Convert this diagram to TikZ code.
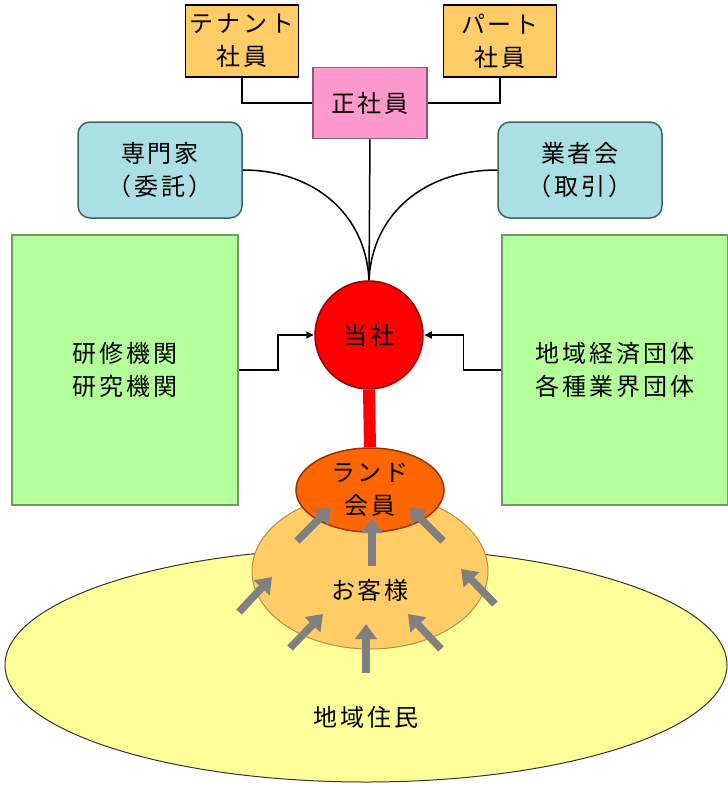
\documentclass[tikz,border=0pt]{standalone}
\usepackage{fontspec}
\setmainfont[LetterSpace=12]{Noto Sans CJK JP}
\usetikzlibrary{arrows.meta,shapes.geometric,backgrounds}
\definecolor{cYellowBox}{HTML}{FFCC66}
\definecolor{cPink}{HTML}{FF99CC}
\definecolor{cPinkLine}{HTML}{8A5A7A}
\definecolor{cCyan}{HTML}{AADFE3}
\definecolor{cCyanLine}{HTML}{3E6464}
\definecolor{cGreen}{HTML}{B3FF99}
\definecolor{cGreenLine}{HTML}{6F9A60}
\definecolor{cRedLine}{HTML}{990000}
\definecolor{cOrange}{HTML}{FF6600}
\definecolor{cOrangeLine}{HTML}{993300}
\definecolor{cCust}{HTML}{FFCC66}
\definecolor{cCustLine}{HTML}{B39040}
\definecolor{cResid}{HTML}{FFFF99}
\definecolor{cArrow}{HTML}{808080}
\begin{document}
\begin{tikzpicture}[x=1pt,y=-1pt,
  every node/.style={font=\fontsize{24}{33}\selectfont, align=center, inner sep=0pt},
  staffbox/.style={rectangle, draw=black, line width=1.5, fill=cYellowBox, minimum width=113, minimum height=72},
  regbox/.style={rectangle, draw=cPinkLine, line width=1.5, fill=cPink, minimum width=114, minimum height=71},
  partnerbox/.style={rectangle, rounded corners=12, draw=cCyanLine, line width=1.5, fill=cCyan, minimum width=164, minimum height=96},
  groupbox/.style={rectangle, draw=cGreenLine, line width=1.5, fill=cGreen, minimum width=226, minimum height=270},
  link/.style={draw=black, line width=1.5},
  inarrow/.style={link, -{Latex[length=8,width=8]}},
  grayarrow/.style={draw=cArrow, line width=7.5, -{Triangle[length=15,width=21]}}
]
\useasboundingbox (0,0) rectangle (728,785);

% ground layers
\node[ellipse, draw=black!80, line width=1, fill=cResid, minimum width=722, minimum height=234] (resid) at (366,665) {};
\node (residtext) at (366,717) {地域住民};
\node[ellipse, draw=cCustLine, line width=1, fill=cCust, minimum width=236, minimum height=156] (cust) at (370,571) {};
\node (custtext) at (370,590) {お客様};

% top boxes
\node[staffbox] (tenant) at (242,41) {テナント\\社員};
\node[staffbox] (part) at (500,41) {パート\\社員};
\node[regbox] (seisha) at (370,103) {正社員};
\node[partnerbox] (senmon) at (160,170) {専門家\\（委託）};
\node[partnerbox] (gyosha) at (580,170) {業者会\\（取引）};
\node[groupbox] (kenshu) at (125,370) {研修機関\\研究機関};
\node[groupbox] (chiiki) at (615,370) {地域経済団体\\各種業界団体};

% company and members
\node[circle, draw=cRedLine, line width=1.5, fill=red, minimum size=108] (tosha) at (369,335) {当社};
\node[ellipse, draw=cOrangeLine, line width=1.5, fill=cOrange, minimum width=148, minimum height=84] (land) at (370,490) {ランド\\会員};
\begin{pgfonlayer}{background}
\draw[red, line width=12] (tosha.south) -- (land.north);
\end{pgfonlayer}

% connectors
\draw[link] (tenant.south) |- (seisha.west);
\draw[link] (seisha.east) -| (part.south);
\draw[link] (seisha.south) -- (tosha.north);
\draw[link] (senmon.east) .. controls (315,170) and (366,215) .. (tosha.north);
\draw[link] (gyosha.west) .. controls (423,170) and (372,215) .. (tosha.north);
\draw[inarrow] (kenshu.east) -- ++(39,0) |- (tosha.west);
\draw[inarrow] (chiiki.west) -- ++(-38,0) |- (tosha.east);

% gray arrows
\draw[grayarrow] (297,541) -- (331,507);
\draw[grayarrow] (372,566) -- (372,518);
\draw[grayarrow] (443,541) -- (409,507);
\draw[grayarrow] (239,612) -- (272,577);
\draw[grayarrow] (495,604) -- (461,569);
\draw[grayarrow] (290,648) -- (323,614);
\draw[grayarrow] (366,673) -- (366,624);
\draw[grayarrow] (441,649) -- (408,614);
\end{tikzpicture}
\end{document}
